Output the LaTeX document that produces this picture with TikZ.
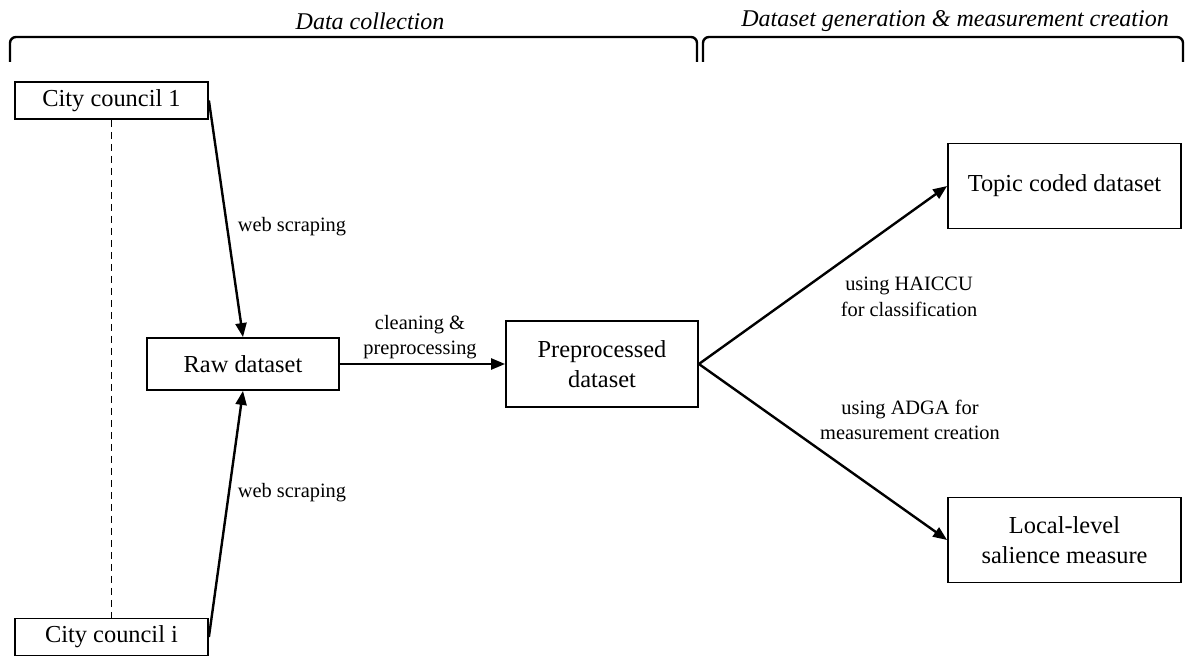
\documentclass[tikz,border=0pt]{standalone}
\usepackage{fontspec}
\setmainfont{Liberation Serif}
\usetikzlibrary{arrows.meta}

\begin{document}
\begin{tikzpicture}[x=0.5pt,y=-0.5pt,
  box/.style={draw,line width=0.9pt,align=center,inner sep=2pt,
    font=\fontsize{12.2}{15}\selectfont},
  lbl/.style={align=center,inner sep=0pt,font=\fontsize{10.2}{12.8}\selectfont},
  hdr/.style={inner sep=0pt,font=\fontsize{12}{14}\selectfont\itshape},
  arr/.style={-{Triangle[length=7pt,width=5.5pt]},line width=1.2pt},
  brk/.style={line width=1.2pt,rounded corners=3pt}]
  \useasboundingbox (0,0) rectangle (1186,657);
  % Headings and brackets
  \node[hdr] (hcoll) at (370,21) {Data collection};
  \node[hdr] (hgen) at (955,21) {Dataset generation \& measurement creation};
  \draw[brk] (10,62) -- (10,37) -- (697,37) -- (697,62);
  \draw[brk] (703,62) -- (703,37) -- (1183,37) -- (1183,62);
  % Sources
  \node[box,minimum width=96.5pt,minimum height=18.5pt] (cc1) at (111.5,100.5) {City council 1};
  \node[box,minimum width=96.5pt,minimum height=18.5pt] (cci) at (111.5,637) {City council i};
  \draw[dashed,dash pattern=on 3.5pt off 2.5pt,line width=0.9pt] (cc1) -- (cci);
  % Raw and preprocessed data
  \node[box,minimum width=96pt,minimum height=26pt] (raw) at (243,364) {Raw dataset};
  \node[box,minimum width=96pt,minimum height=43pt] (prep) at (602,364) {Preprocessed\\dataset};
  \draw[arr] (cc1.east) -- (raw.north);
  \draw[arr] (cci.east) -- (raw.south);
  \node[lbl] (ws1) at (292,227) {web scraping};
  \node[lbl] (ws2) at (292,493) {web scraping};
  \draw[arr] (raw) -- (prep);
  \node[lbl] (clean) at (420,337) {cleaning \&\\preprocessing};
  % Outputs
  \node[box,minimum width=116.5pt,minimum height=42.5pt] (topic) at (1064.5,186) {Topic coded dataset};
  \node[box,minimum width=116.5pt,minimum height=42.5pt] (local) at (1064.5,540) {Local-level\\salience measure};
  \draw[arr] (prep.east) -- (topic.west);
  \draw[arr] (prep.east) -- (local.west);
  \node[lbl] (haiccu) at (909,297) {using HAICCU\\for classification};
  \node[lbl] (adga) at (910,420) {using ADGA for\\measurement creation};
\end{tikzpicture}
\end{document}
